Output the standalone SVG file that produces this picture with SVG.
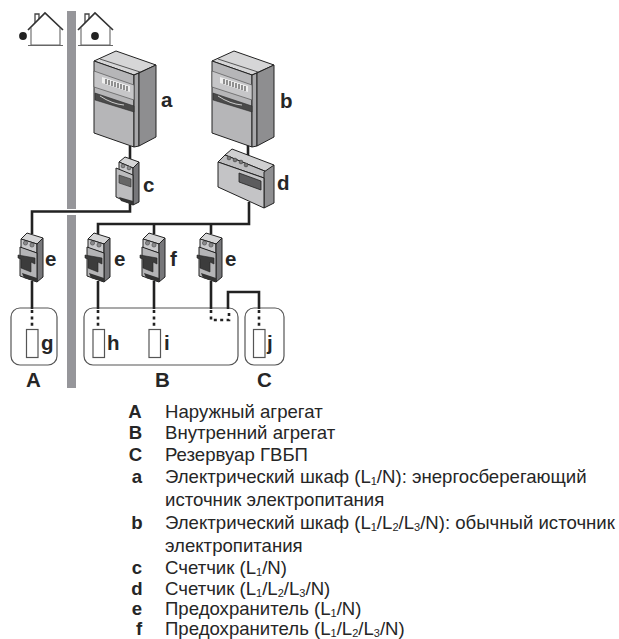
<svg xmlns="http://www.w3.org/2000/svg" width="619" height="639" viewBox="0 0 619 639">
<style>
text{font-family:"Liberation Sans",Arial,sans-serif;fill:#262626}
.lb{font-weight:bold;font-size:20.5px}
.k{font-weight:bold;font-size:18.6px;text-anchor:middle}
.t{font-size:18.6px}
.s{font-size:11px}
.w{fill:none;stroke:#222;stroke-width:2.6}
.d{fill:none;stroke:#222;stroke-width:2.6;stroke-dasharray:3 3.4}
.o{stroke:#222;stroke-width:1;stroke-linejoin:round}
.box{fill:#fff;stroke:#555;stroke-width:1.2}
</style>
<defs>
<g id="cab">
<path class="o" fill="#d6d6d7" d="M94 61L116 51L156 65L134 75Z"/>
<path fill="none" stroke="#333" stroke-width=".8" d="M100 59L140 72"/>
<path class="o" fill="#b6b6b8" d="M94 61L134 75V147L94 133Z"/>
<path class="o" fill="#a8a8aa" d="M134 75L139 73V146L134 147Z"/>
<path class="o" fill="#8e8e90" d="M139 73L156 65V137L139 146Z"/>
<path fill="#c6c6c8" stroke="#555" stroke-width=".7" d="M94 71L134 85V100L94 87Z"/>
<path fill="#efefef" d="M102 77L130 86V92L102 83Z"/>
<path stroke="#444" stroke-width="1.100" d="M106 79V84M109 80V85M112 81V86M115 82V87M118 83V88M121 84V89M124 85V90M127 86V91"/>
<path fill="#4a4a4a" stroke="#222" stroke-width=".5" d="M95 93L134 106V112L95 100Z"/>
<path fill="none" stroke="#ccc" stroke-width="1" d="M100 96Q112 104 124 105"/>
</g>
<g id="brk">
<path class="o" fill="#d5d5d6" d="M21 239L27 233L43 238L37 244Z"/>
<path class="o" fill="#c9c9cb" d="M21 239L37 244V253L21 248Z"/>
<circle cx="25.500" cy="243" r="2.100" fill="#8a8a8c" stroke="#333" stroke-width=".5"/>
<circle cx="32" cy="245" r="2.100" fill="#8a8a8c" stroke="#333" stroke-width=".5"/>
<path class="o" fill="#77777a" d="M37 244L43 238V277L37 282Z"/>
<path class="o" fill="#b4b4b6" d="M20 247L37 253V282L20 276Z"/>
<path fill="#3c3c3c" stroke="#222" stroke-width=".6" d="M18 255L35 258V264L31 262V272L21 268V259L18 258Z"/>
<path fill="#333" d="M22 273L37 278V282L24 278Z"/>
</g>
<g id="house">
<path fill="none" stroke="#444" stroke-width="1.300" d="M35 23V14H39V19"/>
<path fill="none" stroke="#333" stroke-width="1.700" d="M28 30L45 13L63 30"/>
<path fill="none" stroke="#666" stroke-width="1.100" d="M31 28V45H60V28M28 45.500H63"/>
</g>
</defs>

<rect id="wall-top" x="67" y="11" width="9" height="198" fill="#96969a"/>
<rect id="wall-bottom" x="67" y="215" width="9" height="173" fill="#96969a"/>

<g id="house-left"><use href="#house"/><circle cx="23" cy="36" r="3.900" fill="#222"/></g>
<g id="house-right"><use href="#house" transform="translate(50,0)"/><circle cx="95" cy="36" r="3.900" fill="#222"/></g>

<g id="node-A"><rect class="box" x="11" y="308" width="46" height="57" rx="9"/><text class="lb" x="26" y="387">A</text></g>
<g id="node-B"><rect class="box" x="84" y="308" width="154" height="57" rx="9"/><text class="lb" x="155" y="387">B</text></g>
<g id="node-C"><rect class="box" x="245" y="308" width="39" height="57" rx="9"/><text class="lb" x="257" y="387">C</text></g>

<g id="connectors">
<path class="w" d="M130 146V160M130 204V211.500H32V234"/>
<path class="w" d="M248 145V156M249 202V224H98V234M154 224V234M211 224V234"/>
<path class="w" d="M32 281V309M98 281V309M154 281V309M211 281V309"/>
<path class="w" d="M228 309V292H259V309"/>
<path class="d" d="M32 310V327M98 310V327M154 310V327M259 310V327"/>
<path class="d" d="M211 310V320H229V310"/>
</g>

<g id="node-g"><rect class="box" x="26.500" y="329.500" width="11.500" height="28"/><text class="lb" x="41" y="350">g</text></g>
<g id="node-h"><rect class="box" x="93" y="329.500" width="11.500" height="28"/><text class="lb" x="107" y="350">h</text></g>
<g id="node-i"><rect class="box" x="149" y="329.500" width="11.500" height="28"/><text class="lb" x="164" y="350">i</text></g>
<g id="node-j"><rect class="box" x="253.500" y="329.500" width="11.500" height="28"/><text class="lb" x="267" y="350">j</text></g>

<g id="node-a"><use href="#cab"/><text class="lb" x="161" y="107">a</text></g>
<g id="node-b"><use href="#cab" transform="translate(118,0)"/><text class="lb" x="280" y="108">b</text></g>

<g id="node-c">
<path class="o" fill="#d5d5d6" d="M119 162L125 157L139 162L133 168Z"/>
<path class="o" fill="#c9c9cb" d="M119 162L133 168V176L119 171Z"/>
<circle cx="123" cy="166" r="1.900" fill="#8a8a8c" stroke="#333" stroke-width=".5"/>
<circle cx="129" cy="168" r="1.900" fill="#8a8a8c" stroke="#333" stroke-width=".5"/>
<path class="o" fill="#77777a" d="M133 168L139 162V202L133 205Z"/>
<path class="o" fill="#bcbcbe" d="M116 168L133 175V205L116 197Z"/>
<path fill="#666" stroke="#333" stroke-width=".6" d="M119 175L131 179V187L119 183Z"/>
<path fill="#333" d="M119 197L133 201V205L121 201Z"/>
<text class="lb" x="143" y="192">c</text>
</g>
<g id="node-d">
<path class="o" fill="#d0d0d1" d="M225 155L232 149L274 165L267 172Z"/>
<path class="o" fill="#bdbdbf" d="M225 155L267 172V179L218 162Z"/>
<circle cx="229" cy="158" r="1.900" fill="#777" stroke="#333" stroke-width=".5"/>
<circle cx="235" cy="160" r="1.900" fill="#777" stroke="#333" stroke-width=".5"/>
<circle cx="241" cy="162" r="1.900" fill="#777" stroke="#333" stroke-width=".5"/>
<circle cx="246" cy="165" r="1.900" fill="#777" stroke="#333" stroke-width=".5"/>
<path class="o" fill="#8f8f91" d="M264 172L274 165V203L264 208Z"/>
<path class="o" fill="#c4c4c6" d="M218 162L264 178V208L218 187Z"/>
<path fill="#5c5c5e" stroke="#222" stroke-width=".8" d="M239 173L261 181V190L239 182Z"/>
<text class="lb" x="277" y="190">d</text>
</g>

<g id="node-e1"><use href="#brk"/><text class="lb" x="45" y="266">e</text></g>
<g id="node-e2"><use href="#brk" transform="translate(67,0)"/><text class="lb" x="114" y="266">e</text></g>
<g id="node-f"><use href="#brk" transform="translate(122,0)"/><text class="lb" x="170" y="266">f</text></g>
<g id="node-e3"><use href="#brk" transform="translate(179,0)"/><text class="lb" x="225" y="266">e</text></g>

<g id="legend">
<text class="k" x="135" y="418">A</text><text class="t" x="165" y="418">Наружный агрегат</text>
<text class="k" x="135.500" y="439">B</text><text class="t" x="165" y="439">Внутренний агрегат</text>
<text class="k" x="135.500" y="461">C</text><text class="t" x="165" y="461">Резервуар ГВБП</text>
<text class="k" x="137" y="483">a</text><text class="t" x="165" y="483">Электрический шкаф (L<tspan class="s" dy="2">1</tspan><tspan dy="-2">/N): энергосберегающий</tspan></text>
<text class="t" x="165" y="506">источник электропитания</text>
<text class="k" x="137" y="529">b</text><text class="t" x="165" y="529">Электрический шкаф (L<tspan class="s" dy="2">1</tspan><tspan dy="-2">/L</tspan><tspan class="s" dy="2">2</tspan><tspan dy="-2">/L</tspan><tspan class="s" dy="2">3</tspan><tspan dy="-2">/N): обычный источник</tspan></text>
<text class="t" x="165" y="552">электропитания</text>
<text class="k" x="137" y="574">c</text><text class="t" x="165" y="574">Счетчик (L<tspan class="s" dy="2">1</tspan><tspan dy="-2">/N)</tspan></text>
<text class="k" x="137" y="595">d</text><text class="t" x="165" y="595">Счетчик (L<tspan class="s" dy="2">1</tspan><tspan dy="-2">/L</tspan><tspan class="s" dy="2">2</tspan><tspan dy="-2">/L</tspan><tspan class="s" dy="2">3</tspan><tspan dy="-2">/N)</tspan></text>
<text class="k" x="137" y="615">e</text><text class="t" x="165" y="615">Предохранитель (L<tspan class="s" dy="2">1</tspan><tspan dy="-2">/N)</tspan></text>
<text class="k" x="139" y="635">f</text><text class="t" x="165" y="635">Предохранитель (L<tspan class="s" dy="1.500">1</tspan><tspan dy="-1.500">/L</tspan><tspan class="s" dy="1.500">2</tspan><tspan dy="-1.500">/L</tspan><tspan class="s" dy="1.500">3</tspan><tspan dy="-1.500">/N)</tspan></text>
</g>
</svg>
